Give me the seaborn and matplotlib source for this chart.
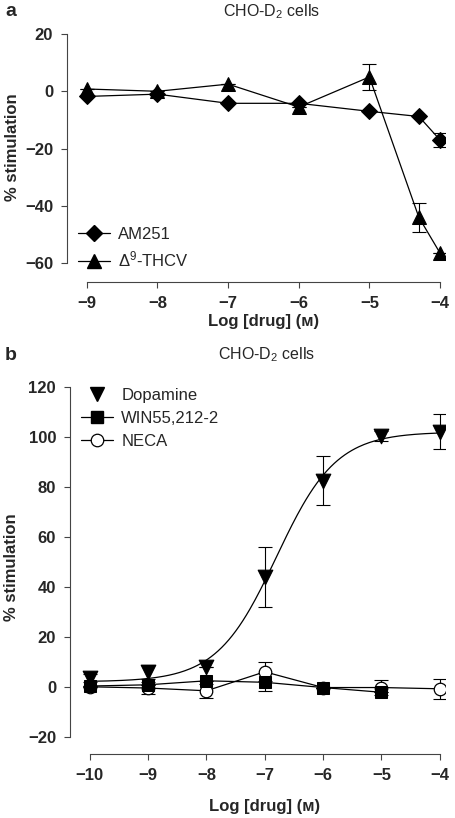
import numpy as np
import pandas as pd
import matplotlib
matplotlib.use("Agg")
import matplotlib.pyplot as plt
import seaborn as sns
from matplotlib.lines import Line2D

sns.set_style("ticks")
plt.rcParams["font.family"] = ["Liberation Sans", "DejaVu Sans"]
plt.rcParams["mathtext.fontset"] = "custom"
plt.rcParams["mathtext.rm"] = "Liberation Sans"
plt.rcParams["mathtext.it"] = "Liberation Sans:italic"
plt.rcParams["mathtext.bf"] = "Liberation Sans:bold"

# ---------------- data: panel a ----------------
log_a = [-9, -8, -7, -6, -5, -4.3, -4]
am251 = [-1.8, -1.0, -4.2, -4.2, -7.0, -8.8, -17.0]
am251_err = [0, 0, 0, 0, 0, 0, 2.5]
thcv = [0.8, 0.0, 2.5, -5.5, 5.0, -44.0, -56.5]
thcv_err = [0, 0, 0, 0, 4.5, 5.0, 0]

# ---------------- data: panel b ----------------
log_b = [-10, -9, -8, -7, -6, -5, -4]
dopamine = [3.5, 6.0, 8.0, 44.0, 82.5, 100.5, 102.0]
dopamine_err = [1.5, 2.7, 0, 12.0, 9.8, 2.0, 7.0]
log_win = [-10, -9, -8, -7, -6, -5]
win = [0.3, 0.8, 2.4, 1.8, -0.3, -2.2]
win_err = [0, 0, 0, 3.6, 0, 0]
neca = [0.0, -0.5, -1.6, 6.0, -0.3, -0.3, -0.8]
neca_err = [0, 2.5, 2.8, 3.8, 0, 3.0, 4.0]
# sigmoid fit parameters for dopamine
fit_bottom, fit_top, fit_logec50, fit_hill = 2.0, 102.0, -6.8, 0.85

FS = 12
W, H = 456, 818
fig = plt.figure(figsize=(W / 100, H / 100), dpi=100)

def style_axes(ax, xb, yb, xt, yt):
    for s in ["top", "right"]:
        ax.spines[s].set_visible(False)
    ax.spines["left"].set_bounds(*yb)
    ax.spines["bottom"].set_bounds(*xb)
    ax.spines["bottom"].set_position(("outward", 8.6))
    for s in ["left", "bottom"]:
        ax.spines[s].set_linewidth(0.8)
        ax.spines[s].set_color("#444444")
    ax.set_xticks(xt)
    ax.set_yticks(yt)
    ax.set_xticklabels([f"\u2212{abs(v)}" if v < 0 else str(v) for v in xt],
                       fontweight="bold", fontsize=FS)
    ax.set_yticklabels([f"\u2212{abs(v)}" if v < 0 else str(v) for v in yt],
                       fontweight="bold", fontsize=FS)
    ax.tick_params(axis="both", direction="out", length=4, width=0.8,
                   color="#444444", pad=6)
    ax.set_ylabel("% stimulation", fontweight="bold", fontsize=FS)
    ax.set_xlabel("Log [drug] (\u1d0d)", fontweight="bold", fontsize=FS)

# ---------------- panel a ----------------
axa = fig.add_axes([67 / W, 1 - 270 / H, 378 / W, 240 / H])
dfa = pd.DataFrame({"x": log_a, "am": am251, "th": thcv})
axa.errorbar(log_a, am251, yerr=am251_err, fmt="none", ecolor="black",
             elinewidth=0.8, capsize=5, capthick=0.8, zorder=2)
axa.errorbar(log_a, thcv, yerr=thcv_err, fmt="none", ecolor="black",
             elinewidth=0.8, capsize=5, capthick=0.8, zorder=2)
sns.lineplot(data=dfa, x="x", y="am", ax=axa, color="black", lw=0.9,
             marker="D", markersize=8, mfc="black", mec="black", zorder=3)
sns.lineplot(data=dfa, x="x", y="th", ax=axa, color="black", lw=0.9,
             marker="^", markersize=10, mfc="black", mec="black", zorder=3)
axa.set_xlim(-9.28, -3.93)
axa.set_ylim(-62.4, 21.4)
style_axes(axa, (-9, -4), (-60, 20), [-9, -8, -7, -6, -5, -4], [20, 0, -20, -40, -60])
axa.xaxis.set_label_coords(0.52, -0.185)
axa.yaxis.set_label_coords(-0.125, 0.51)
handles_a = [
    Line2D([], [], color="black", lw=0.9, marker="D", markersize=8),
    Line2D([], [], color="black", lw=0.9, marker="^", markersize=10),
]
axa.legend(handles_a, ["AM251", r"$\Delta^9$-THCV"], loc="lower left",
           bbox_to_anchor=(-0.01, -0.06), frameon=False, fontsize=FS,
           handlelength=1.9, handletextpad=0.5, labelspacing=0.45)
fig.text(272 / W, 1 - 12 / H, r"CHO-D$_2$ cells", ha="center", va="center", fontsize=11.5)
fig.text(5 / W, 1 - 11 / H, "a", ha="left", va="center", fontsize=14, fontweight="bold")

# ---------------- panel b ----------------
axb = fig.add_axes([70 / W, 1 - 742 / H, 375 / W, 357 / H])
xf = np.linspace(-10, -4, 200)
yf = fit_bottom + (fit_top - fit_bottom) / (1 + 10 ** ((fit_logec50 - xf) * fit_hill))
sns.lineplot(x=xf, y=yf, ax=axb, color="black", lw=0.9, zorder=2)
for xs, ys, es in [(log_b, dopamine, dopamine_err), (log_win, win, win_err), (log_b, neca, neca_err)]:
    axb.errorbar(xs, ys, yerr=es, fmt="none", ecolor="black", elinewidth=0.8,
                 capsize=5, capthick=0.8, zorder=2)
dfw = pd.DataFrame({"x": log_win, "y": win})
dfn = pd.DataFrame({"x": log_b, "y": neca})
dfd = pd.DataFrame({"x": log_b, "y": dopamine})
sns.lineplot(data=dfn, x="x", y="y", ax=axb, color="black", lw=0.9, marker="o",
             markersize=9, mfc="white", mec="black", mew=0.9, zorder=3)
sns.lineplot(data=dfw, x="x", y="y", ax=axb, color="black", lw=0.9, marker="s",
             markersize=8.5, mfc="black", mec="black", zorder=4)
sns.scatterplot(data=dfd, x="x", y="y", ax=axb, color="black", marker="v",
                s=110, edgecolor="black", zorder=5)
axb.set_xlim(-10.34, -3.91)
axb.set_ylim(-22.1, 120.8)
style_axes(axb, (-10, -4), (-20, 120), [-10, -9, -8, -7, -6, -5, -4],
           [-20, 0, 20, 40, 60, 80, 100, 120])
axb.xaxis.set_label_coords(0.52, -0.16)
axb.yaxis.set_label_coords(-0.135, 0.49)
handles_b = [
    Line2D([], [], color="black", lw=0, marker="v", markersize=10),
    Line2D([], [], color="black", lw=0.9, marker="s", markersize=8.5),
    Line2D([], [], color="black", lw=0.9, marker="o", markersize=9, mfc="white", mew=0.9),
]
axb.legend(handles_b, ["Dopamine", "WIN55,212-2", "NECA"], loc="upper left",
           bbox_to_anchor=(-0.01, 1.035), frameon=False, fontsize=FS,
           handlelength=1.9, handletextpad=0.5, labelspacing=0.5)
fig.text(267 / W, 1 - 355 / H, r"CHO-D$_2$ cells", ha="center", va="center", fontsize=11.5)
fig.text(5 / W, 1 - 355 / H, "b", ha="left", va="center", fontsize=14, fontweight="bold")

fig.savefig("out.png", dpi=100)
